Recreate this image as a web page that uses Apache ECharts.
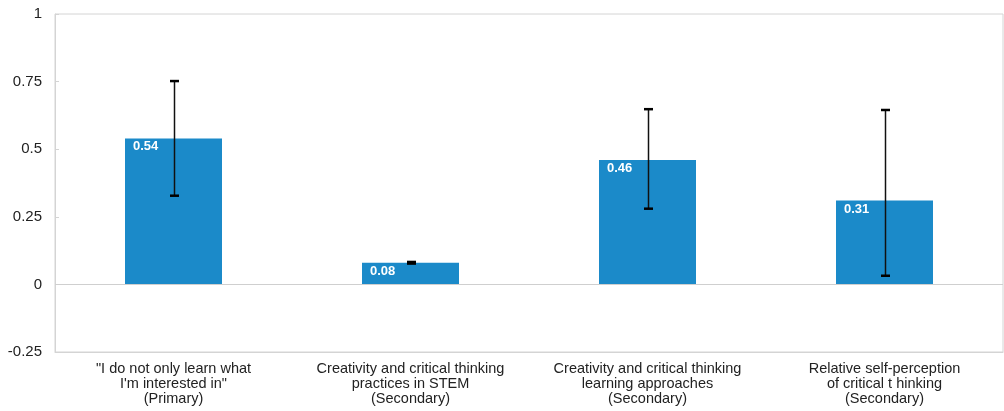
<!DOCTYPE html>
<html>
<head>
<meta charset="utf-8">
<script src="https://cdn.jsdelivr.net/npm/echarts@6/dist/echarts.min.js"></script>
<style>
  html, body { margin: 0; padding: 0; background: #fff; }
  #chart { width: 1004px; height: 411px; }
</style>
</head>
<body>
<div id="chart"></div>
<script>
// Effect sizes with confidence intervals
const categories = [
  '"I do not only learn what\nI\'m interested in"\n(Primary)',
  'Creativity and critical thinking\npractices in STEM\n(Secondary)',
  'Creativity and critical thinking\nlearning approaches\n(Secondary)',
  'Relative self-perception\nof critical t hinking\n(Secondary)'
];
const values = [0.54, 0.08, 0.46, 0.31];
const ciLow = [0.328, 0.077, 0.28, 0.032];
const ciHigh = [0.752, 0.083, 0.648, 0.645];
const yTicks = { min: -0.25, max: 1, interval: 0.25 };

const FONT = '"Liberation Sans", Arial, sans-serif';

const chart = echarts.init(document.getElementById('chart'), null, { renderer: 'canvas' });

chart.setOption({
  animation: false,
  grid: {
    left: 55, right: 1, top: 14, bottom: 59,
    show: true, borderColor: '#d4d4d4', borderWidth: 1
  },
  xAxis: {
    type: 'category',
    data: categories,
    axisLine: { onZero: false, lineStyle: { color: '#d4d4d4' } },
    axisTick: { show: false },
    axisLabel: {
      color: '#222', fontFamily: FONT, fontSize: 14.5, lineHeight: 15,
      margin: 9, interval: 0
    }
  },
  yAxis: {
    type: 'value',
    min: yTicks.min, max: yTicks.max, interval: yTicks.interval,
    axisLine: { show: true, lineStyle: { color: '#d4d4d4' } },
    axisTick: { show: true, inside: true, length: 4, lineStyle: { color: '#d4d4d4' } },
    splitLine: { show: false },
    axisLabel: { color: '#222', fontFamily: FONT, fontSize: 15, margin: 13 }
  },
  series: [
    {
      type: 'bar',
      data: values,
      barWidth: 97,
      itemStyle: { color: '#1b8ac9' },
      label: {
        show: true,
        position: 'insideTopLeft',
        distance: 0,
        offset: [8, 2],
        color: '#fff',
        fontFamily: FONT,
        fontWeight: 'bold',
        fontSize: 13,
        formatter: p => p.value.toFixed(2)
      },
      markLine: {
        silent: true,
        symbol: 'none',
        label: { show: false },
        lineStyle: { color: '#cfcfcf', width: 1, type: 'solid' },
        data: [{ yAxis: 0 }]
      }
    },
    {
      type: 'custom',
      data: categories.map((c, i) => [i, ciLow[i], ciHigh[i]]),
      z: 10,
      renderItem: function (params, api) {
        const x = api.value(0);
        const lo = api.coord([x, api.value(1)]);
        const hi = api.coord([x, api.value(2)]);
        const cx = Math.round(lo[0]) + 0.5;
        const half = 4.5;
        const style = { stroke: '#111', lineWidth: 1.5 };
        const capStyle = { stroke: '#000', lineWidth: 2.5 };
        return {
          type: 'group',
          children: [
            { type: 'line', shape: { x1: cx, y1: hi[1], x2: cx, y2: lo[1] }, style: style },
            { type: 'line', shape: { x1: cx - half, y1: hi[1], x2: cx + half, y2: hi[1] }, style: capStyle },
            { type: 'line', shape: { x1: cx - half, y1: lo[1], x2: cx + half, y2: lo[1] }, style: capStyle }
          ]
        };
      }
    }
  ]
});
</script>
</body>
</html>
